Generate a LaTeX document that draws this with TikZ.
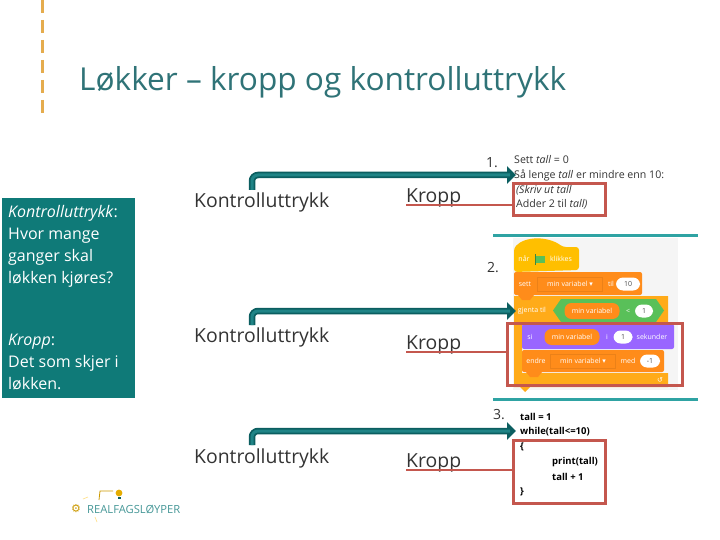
\documentclass[tikz,border=0pt]{standalone}
\usepackage{fontspec}
\setmainfont{Open Sans}
\newfontfamily\symf{DejaVu Sans}
\usetikzlibrary{arrows.meta}
\definecolor{tealbox}{HTML}{0F7A78}
\definecolor{tealdark}{HTML}{0B5E60}
\definecolor{teallight}{HTML}{1F8486}
\definecolor{tealrule}{HTML}{2FA3A3}
\definecolor{redb}{HTML}{C4574E}
\definecolor{inkk}{HTML}{333333}
\definecolor{titlec}{HTML}{2F7377}
\definecolor{dashc}{HTML}{E5AC4E}
\definecolor{sy}{HTML}{FFBF00}
\definecolor{so}{HTML}{FF8C1A}
\definecolor{sl}{HTML}{FFAB19}
\definecolor{sp}{HTML}{9966FF}
\definecolor{sg}{HTML}{59C059}
\tikzset{
  x=1pt,y=-1pt,
  bigt/.style={anchor=west,inner sep=0pt,text=inkk,font=\fontsize{19.4}{19.4}\selectfont},
  num/.style={anchor=west,inner sep=0pt,text=inkk,font=\fontsize{14}{14}\selectfont},
  small/.style={anchor=west,inner sep=0pt,text=inkk,font=\fontsize{10.6}{10.6}\selectfont},
  code/.style={anchor=west,inner sep=0pt,text=black,font=\fontsize{9.5}{9.5}\bfseries\selectfont},
  redbox/.style={draw=redb,line width=3pt,fill=none,inner sep=0pt,outer sep=0pt,anchor=north west},
  redline/.style={draw=redb,line width=2.5pt},
  rulel/.style={draw=tealrule,line width=3pt},
  arrowo/.style={draw=tealdark,line width=6.5pt,rounded corners=6pt,-{Triangle[length=9pt,width=17pt,color=tealdark]}},
  arrowi/.style={draw=teallight,line width=3pt,rounded corners=6pt},
  sc/.style={inner sep=0pt,text=white,font=\fontsize{7}{7}\selectfont},
  pill/.style={fill=white,rounded corners=7pt,minimum height=13pt,inner sep=0pt,text=black!70,font=\fontsize{7}{7}\selectfont},
  opill/.style={fill=so,rounded corners=7pt,minimum height=16pt,inner sep=0pt,text=white,font=\fontsize{7}{7}\selectfont},
  drop/.style={fill=so,draw=so!92!black,line width=.4pt,minimum height=14pt,inner sep=0pt,text=white,font=\fontsize{7}{7}\selectfont},
}
\begin{document}
\begin{tikzpicture}
\useasboundingbox (0,0) rectangle (720,540);
\fill[white] (0,0) rectangle (720,540);
% dashed bar
\draw[dashc,line width=3pt,dash pattern=on 13.5pt off 6.5pt] (42,0) -- (42,114);
% title
\node[anchor=west,inner sep=0pt,text=titlec,font=\fontsize{31.6}{31.6}\selectfont] (title) at (79,82) {Løkker – kropp og kontrolluttrykk};
% left box
\fill[tealbox] (2,198) rectangle (135,398);
\node[anchor=north west,inner sep=0pt,text=white,align=left,font=\fontsize{16}{22}\selectfont] (defA) at (8,205) {\textit{Kontrolluttrykk}:\\Hvor mange\\ganger skal\\løkken kjøres?};
\node[anchor=north west,inner sep=0pt,text=white,align=left,font=\fontsize{16}{22}\selectfont] (defB) at (8,334) {\textit{Kropp}:\\Det som skjer i\\løkken.};
% column labels
\node[bigt] (c1) at (194,202) {Kontrolluttrykk};
\node[bigt] (c2) at (194,337) {Kontrolluttrykk};
\node[bigt] (c3) at (194,458) {Kontrolluttrykk};
\node[bigt] (k1) at (406,198) {Kropp};
\node[bigt] (k2) at (406,345) {Kropp};
\node[bigt] (k3) at (406,463) {Kropp};
\node[num] (n1) at (486,163) {1.};
\node[num] (n2) at (487,268) {2.};
\node[num] (n3) at (493,415) {3.};
% rules
\coordinate (ra) at (493,235); \coordinate (rb) at (698,235);
\coordinate (rc) at (493,399); \coordinate (rd) at (698,399);
\draw[rulel] (ra) -- (rb);
\draw[rulel] (rc) -- (rd);
% text list 1
\node[small] (t1) at (514,160) {Sett \textit{tall} = 0};
\node[small] (t2) at (514,175) {Så lenge \textit{tall} er mindre enn 10:};
\node[small] (t3) at (516,190) {\textit{(Skriv ut tall}};
\node[small] (t4) at (516,204) {Adder 2 til \textit{tall)}};
% scratch
\fill[black!4] (513,238) rectangle (678,390);
\fill[sl] (514,296) -- (668,296) -- (668,325) -- (522,325) -- (522,373) -- (668,373) -- (668,387) -- (530,387) -- (525,392) -- (520,387) -- (514,387) -- cycle;
\fill[sy,rounded corners=3pt] (514,272) -- (514,248) .. controls (525,236) and (548,236) .. (563,247) -- (579,247) -- (579,270) -- cycle;
\fill[so,rounded corners=2pt] (514,272) rectangle (642,295);
\fill[so] (518,295) -- (522,300) -- (530,300) -- (534,295) -- cycle;
\fill[sg] (553,310.5) -- (561,299) -- (656,299) -- (664,310.5) -- (656,322) -- (561,322) -- cycle;
\fill[sp,rounded corners=2pt] (522,324) rectangle (674,349);
\fill[so,rounded corners=2pt] (522,350) rectangle (664,372);
\fill[so] (526,372) -- (530,377) -- (538,377) -- (542,372) -- cycle;
\node[sc] (s1) at (524,259) {når};
\fill[sg] (535,256) rectangle (545,263); \draw[sg!70!black,line width=.8pt] (535,254) -- (535,265);
\node[sc,anchor=west] (s2) at (550,259) {klikkes};
\node[sc] (s3) at (525,284) {sett};
\node[drop,minimum width=65pt] (s4) at (570,284) {min variabel {\symf ▾}};
\node[sc] (s5) at (611,284) {til};
\node[pill,minimum width=24pt] (s6) at (628,284) {10};
\node[sc] (s7) at (532,311) {gjenta til};
\node[opill,minimum width=55pt] (s8) at (592,311) {min variabel};
\node[sc] (s9) at (628,311) {<};
\node[pill,minimum width=18pt] (s10) at (644,311) {1};
\node[sc] (s11) at (530,337) {si};
\node[opill,minimum width=55pt] (s12) at (572,337) {min variabel};
\node[sc] (s13) at (607,337) {i};
\node[pill,minimum width=19pt] (s14) at (623,337) {1};
\node[sc] (s15) at (652,337) {sekunder};
\node[sc] (s16) at (536,361) {endre};
\node[drop,minimum width=65pt] (s17) at (583,361) {min variabel {\symf ▾}};
\node[sc] (s18) at (628,361) {med};
\node[pill,minimum width=20pt] (s19) at (650,361) {-1};
\node[sc] (s20) at (660,380) {{\symf ↺}};
% text list 3
\node[code] (u1) at (520,417) {tall = 1};
\node[code] (u2) at (520,432) {while(tall<=10)};
\node[code] (u3) at (520,447) {\{};
\node[code] (u4) at (552,462) {print(tall)};
\node[code] (u5) at (552,477) {tall + 1};
\node[code] (u6) at (520,492) {\}};
% red boxes
\node[redbox,minimum width=92pt,minimum height=32pt] (b1) at (513.5,183.5) {};
\node[redbox,minimum width=175pt,minimum height=62pt] (b2) at (507.5,323.5) {};
\node[redbox,minimum width=92pt,minimum height=63pt] (b3) at (513.5,440.5) {};
\coordinate (k1s) at (406,205);
\coordinate (k2s) at (406,352);
\coordinate (k3s) at (406,470);
\draw[redline] (k1s) -- (k1s -| b1.west);
\draw[redline] (k2s) -- (k2s -| b2.west);
\draw[redline] (k3s) -- (k3s -| b3.west);
% arrows
\coordinate (a1s) at (252,190); \coordinate (a1c) at (252,175); \coordinate (a1e) at (516,175);
\coordinate (a2s) at (252,325); \coordinate (a2c) at (252,311); \coordinate (a2e) at (516,311);
\coordinate (a3s) at (252,445); \coordinate (a3c) at (252,431); \coordinate (a3e) at (516,431);
\foreach \n in {1,2,3}{
  \draw[arrowo] (a\n s) -- (a\n c) -- (a\n e);
  \draw[arrowi] (a\n s) -- (a\n c) -- ([xshift=-6pt]a\n e);
}
% logo
\node[text=sy!80!black,inner sep=0pt,font=\fontsize{11}{11}\symf] (gear) at (76,509) {⚙};
\node[anchor=west,inner sep=0pt,text=tealrule!70!gray,font=\fontsize{11.2}{11.2}\selectfont] (lg) at (87,509) {REALFAGSLØYPER};
\draw[sy!80!black,line width=.8pt] (99,500) -- (100,491) -- (113,491);
\draw[sy!50,line width=.6pt] (83,499) -- (88,497);
\draw[sy!50,line width=.6pt] (95,517) -- (97,522);
\fill[sy!90!black] (119,493) circle (3.4);
\fill[tealdark] (117.5,497) rectangle (120.5,499);
\end{tikzpicture}
\end{document}
